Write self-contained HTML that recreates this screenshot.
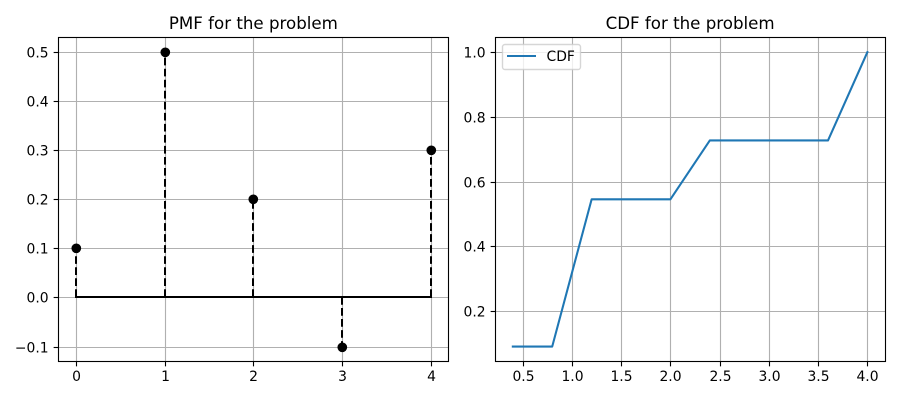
<!DOCTYPE html>
<html lang="en">
<head>
<meta charset="utf-8">
<title>PMF and CDF for the problem</title>
<style>
  html, body { margin: 0; padding: 0; background: #fff; }
  svg { display: block; }
  text { font-family: "DejaVu Sans", "Liberation Sans", sans-serif; fill: #000; }
</style>
</head>
<body>
<svg id="figure" xmlns="http://www.w3.org/2000/svg" width="900" height="400" viewBox="0 0 900 400">
  <rect x="0" y="0" width="900" height="400" fill="#ffffff"/>
</svg>
<script>
const pmfCategories = [0, 1, 2, 3, 4];
const pmfValues = [0.1, 0.5, 0.2, -0.1, 0.3];
const pmfXTicks = [0, 1, 2, 3, 4];
const pmfXTickLabels = ['0', '1', '2', '3', '4'];
const pmfYTicks = [-0.1, 0, 0.1, 0.2, 0.3, 0.4, 0.5];
const pmfYTickLabels = ['\u22120.1', '0.0', '0.1', '0.2', '0.3', '0.4', '0.5'];

const cdfXValues = [0.4, 0.8, 1.2, 2.0, 2.4, 3.6, 4.0];
const cdfValues = [0.0909, 0.0909, 0.5455, 0.5455, 0.7273, 0.7273, 1.0];
const cdfXTicks = [0.5, 1, 1.5, 2, 2.5, 3, 3.5, 4];
const cdfXTickLabels = ['0.5', '1.0', '1.5', '2.0', '2.5', '3.0', '3.5', '4.0'];
const cdfYTicks = [0.2, 0.4, 0.6, 0.8, 1.0];
const cdfYTickLabels = ['0.2', '0.4', '0.6', '0.8', '1.0'];

const svg = document.getElementById('figure');
const NS = 'http://www.w3.org/2000/svg';

function make(tag, attrs, parent) {
  const node = document.createElementNS(NS, tag);
  for (const key in attrs) node.setAttribute(key, attrs[key]);
  parent.appendChild(node);
  return node;
}
function snap(v) { return Math.round(v) + 0.5; }
function scaleLinear(d0, d1, r0, r1) {
  return function (v) { return r0 + (v - d0) * (r1 - r0) / (d1 - d0); };
}

const TOP = 37.45, BOTTOM = 361.25;

function drawAxes(prefix, title, left, right, xLim, yLim, xTicks, xLabels, yTicks, yLabels) {
  const x = scaleLinear(xLim[0], xLim[1], left, right);
  const y = scaleLinear(yLim[0], yLim[1], BOTTOM, TOP);
  const frameLeft = snap(left), frameRight = snap(right), frameTop = snap(TOP), frameBottom = snap(BOTTOM);

  const group = make('g', {}, svg);
  
  

  xTicks.forEach(function (t, i) {
    const px = snap(x(t));
    const grid = make('line', { x1: px, x2: px, y1: frameTop, y2: frameBottom, stroke: '#b0b0b0', 'stroke-width': 1.11 }, group);
    
    
    const tick = make('line', { x1: px, x2: px, y1: frameBottom, y2: frameBottom + 4.86, stroke: '#000', 'stroke-width': 1.11 }, group);
    
    
    const label = make('text', { x: px, y: 381, 'font-size': 13.89, 'text-anchor': 'middle' }, group);
    label.textContent = xLabels[i];
    
    
  });

  yTicks.forEach(function (t, i) {
    const py = snap(y(t));
    const grid = make('line', { x1: frameLeft, x2: frameRight, y1: py, y2: py, stroke: '#b0b0b0', 'stroke-width': 1.11 }, group);
    
    
    const tick = make('line', { x1: frameLeft - 4.86, x2: frameLeft, y1: py, y2: py, stroke: '#000', 'stroke-width': 1.11 }, group);
    
    
    const label = make('text', { x: frameLeft - 9.9, y: py + 5, 'font-size': 13.89, 'text-anchor': 'end' }, group);
    label.textContent = yLabels[i];
    
    
  });

  const heading = make('text', { x: (left + right) / 2, y: 29, 'font-size': 16.67, 'text-anchor': 'middle' }, group);
  heading.textContent = title;
  
  

  return { x: x, y: y, group: group, left: frameLeft, right: frameRight, top: frameTop, bottom: frameBottom };
}

function drawFrame(ax, prefix) {
  const frame = make('rect', {
    x: ax.left, y: ax.top, width: ax.right - ax.left, height: ax.bottom - ax.top,
    fill: 'none', stroke: '#000', 'stroke-width': 1.11
  }, ax.group);
  
  
}

/* PMF stem plot */
const pmf = drawAxes('pmf', 'PMF for the problem', 58.37, 448.4, [-0.2, 4.2], [-0.13, 0.53],
  pmfXTicks, pmfXTickLabels, pmfYTicks, pmfYTickLabels);

pmfCategories.forEach(function (c, i) {
  const stem = make('line', {
    x1: Math.round(pmf.x(c)), x2: Math.round(pmf.x(c)), y1: Math.round(pmf.y(0)), y2: Math.round(pmf.y(pmfValues[i])),
    stroke: '#000', 'stroke-width': 2, 'stroke-dasharray': '7.7 3.33'
  }, pmf.group);
  
  
});

const baseline = make('line', {
  x1: Math.round(pmf.x(pmfCategories[0])), x2: Math.round(pmf.x(pmfCategories[pmfCategories.length - 1])),
  y1: Math.round(pmf.y(0)), y2: Math.round(pmf.y(0)),
  stroke: '#000', 'stroke-width': 2, 'stroke-linecap': 'square'
}, pmf.group);



pmfCategories.forEach(function (c, i) {
  const marker = make('circle', { cx: Math.round(pmf.x(c)) + 0.3, cy: Math.round(pmf.y(pmfValues[i])) + 0.3, r: 4.86, fill: '#000' }, pmf.group);
  
  
});
drawFrame(pmf, 'pmf');

/* CDF line plot */
const cdf = drawAxes('cdf', 'CDF for the problem', 495.1, 885.13, [0.22, 4.18], [0.04545, 1.04545],
  cdfXTicks, cdfXTickLabels, cdfYTicks, cdfYTickLabels);

const cdfPoints = cdfXValues.map(function (v, i) { return cdf.x(v) + ',' + cdf.y(cdfValues[i]); }).join(' ');
const cdfLine = make('polyline', {
  points: cdfPoints, fill: 'none', stroke: '#1f77b4', 'stroke-width': 2.08,
  'stroke-linejoin': 'round', 'stroke-linecap': 'square'
}, cdf.group);


drawFrame(cdf, 'cdf');

/* Legend */
const legend = make('g', {}, cdf.group);



const legendBox = make('rect', {
  x: 502.5, y: 44.5, width: 78, height: 25, rx: 2.5, ry: 2.5,
  fill: '#ffffff', 'fill-opacity': 0.8, stroke: '#cccccc', 'stroke-opacity': 0.8, 'stroke-width': 1.39
}, legend);



const legendLine = make('line', { x1: 507, x2: 536, y1: 56, y2: 56, stroke: '#1f77b4', 'stroke-width': 2 }, legend);



const legendText = make('text', { x: 546.5, y: 61, 'font-size': 13.89 }, legend);
legendText.textContent = 'CDF';


</script>
</body>
</html>
